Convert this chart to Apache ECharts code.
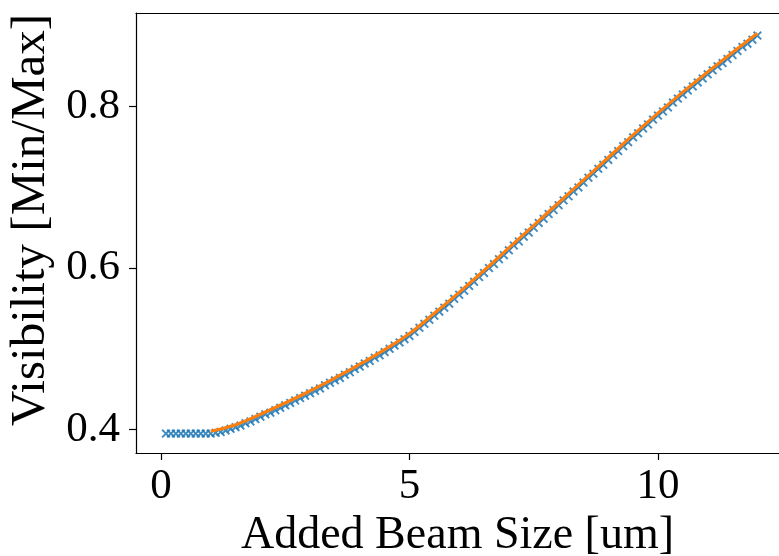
<!DOCTYPE html>
<html>
<head>
<meta charset="utf-8">
<script src="https://cdn.jsdelivr.net/npm/echarts@6/dist/echarts.min.js"></script>
<style>
html,body{margin:0;padding:0;background:#fff;}
#chart{width:779px;height:556px;}
</style>
</head>
<body>
<div id="chart"></div>
<script>
const xTicks = [0, 5, 10];
const yTicks = [0.4, 0.6, 0.8];
const xAxisTitle = 'Added Beam Size [um]';
const yAxisTitle = 'Visibility [Min/Max]';

const blueX = [
0.1,0.2,0.3,0.4,0.5,0.6,0.7,0.8,0.9,
1.0,1.1,1.2,1.3,1.4,1.5,1.6,1.7,1.8,1.9,
2.0,2.1,2.2,2.3,2.4,2.5,2.6,2.7,2.8,2.9,
3.0,3.1,3.2,3.3,3.4,3.5,3.6,3.7,3.8,3.9,
4.0,4.1,4.2,4.3,4.4,4.5,4.6,4.7,4.8,4.9,
5.0,5.1,5.2,5.3,5.4,5.5,5.6,5.7,5.8,5.9,
6.0,6.1,6.2,6.3,6.4,6.5,6.6,6.7,6.8,6.9,
7.0,7.1,7.2,7.3,7.4,7.5,7.6,7.7,7.8,7.9,
8.0,8.1,8.2,8.3,8.4,8.5,8.6,8.7,8.8,8.9,
9.0,9.1,9.2,9.3,9.4,9.5,9.6,9.7,9.8,9.9,
10.0,10.1,10.2,10.3,10.4,10.5,10.6,10.7,10.8,10.9,
11.0,11.1,11.2,11.3,11.4,11.5,11.6,11.7,11.8,11.9,
12.0
];
const blueY = [
0.395,0.395,0.395,0.395,0.395,0.395,0.395,0.395,0.395,
0.395,0.396,0.397,0.399,0.401,0.403,0.405,0.408,0.410,0.413,
0.416,0.419,0.421,0.424,0.427,0.430,0.433,0.436,0.439,0.442,
0.445,0.448,0.451,0.455,0.458,0.461,0.464,0.468,0.471,0.475,
0.478,0.482,0.485,0.489,0.492,0.496,0.500,0.504,0.508,0.512,
0.516,0.521,0.526,0.531,0.536,0.541,0.546,0.551,0.556,0.562,
0.567,0.572,0.578,0.583,0.589,0.594,0.600,0.605,0.611,0.616,
0.622,0.628,0.633,0.639,0.644,0.650,0.656,0.661,0.667,0.672,
0.678,0.684,0.689,0.695,0.700,0.706,0.712,0.717,0.723,0.728,
0.734,0.740,0.745,0.751,0.756,0.762,0.767,0.773,0.778,0.784,
0.789,0.794,0.799,0.805,0.810,0.815,0.820,0.825,0.830,0.835,
0.840,0.845,0.850,0.854,0.859,0.864,0.869,0.874,0.878,0.883,
0.888
];
const fitX = [1.0,1.5,2.0,2.5,3.0,3.5,4.0,4.5,5.0,5.5,6.0,6.5,7.0,7.5,8.0,8.5,9.0,9.5,10.0,10.5,11.0,11.5,12.0];
const fitY = [0.398,0.406,0.419,0.433,0.448,0.464,0.481,0.499,0.519,0.544,0.570,0.597,0.625,0.653,0.681,0.709,0.737,0.765,0.792,0.818,0.843,0.867,0.891];

const FONT = 'Liberation Serif, Times New Roman, serif';
const chart = echarts.init(document.getElementById('chart'), null, {renderer: 'canvas'});

const xMarker = 'path://M0,1.5L1.5,0L5,3.5L8.5,0L10,1.5L6.5,5L10,8.5L8.5,10L5,6.5L1.5,10L0,8.5L3.5,5Z';
const X_MIN = -0.503, X_MAX = 12.435;

chart.setOption({
  animation: false,
  backgroundColor: '#ffffff',
  grid: {
    left: 136, right: 0, top: 13, bottom: 103,
    show: false, containLabel: false, outerBoundsMode: 'none'
  },
  xAxis: [{
    type: 'value', min: X_MIN, max: X_MAX,
    splitLine: {show: false},
    axisLine: {show: true, onZero: false, lineStyle: {color: '#000', width: 1.2}},
    axisTick: {show: true, inside: false, length: 7, lineStyle: {color: '#000', width: 1.2}, customValues: xTicks},
    axisLabel: {show: true, customValues: xTicks, margin: 12, color: '#000', fontFamily: FONT, fontSize: 43,
      formatter: v => String(v)},
    name: xAxisTitle, nameLocation: 'middle', nameGap: 47,
    nameTextStyle: {color: '#000', fontFamily: FONT, fontSize: 46}
  }, {
    type: 'value', position: 'top', min: X_MIN, max: X_MAX,
    splitLine: {show: false},
    axisLine: {show: true, onZero: false, lineStyle: {color: '#000', width: 1.2}},
    axisTick: {show: false}, axisLabel: {show: false}
  }],
  yAxis: {
    type: 'value', min: 0.371, max: 0.916,
    splitLine: {show: false},
    axisLine: {show: true, onZero: false, lineStyle: {color: '#000', width: 1.2}},
    axisTick: {show: true, inside: false, length: 7, lineStyle: {color: '#000', width: 1.2}, customValues: yTicks},
    axisLabel: {show: true, customValues: yTicks, margin: 16, color: '#000', fontFamily: FONT, fontSize: 43,
      padding: [6, 0, 0, 0], formatter: v => v.toFixed(1)},
    name: yAxisTitle, nameLocation: 'middle', nameGap: 76, nameRotate: 90,
    nameTextStyle: {color: '#000', fontFamily: FONT, fontSize: 49, padding: [0, 0, 0, 26]}
  },
  series: [
    {
      type: 'scatter',
      data: blueX.map((x, i) => [x, blueY[i]]),
      symbol: xMarker,
      symbolSize: 9,
      itemStyle: {color: '#1f77b4', opacity: 0.85},
      z: 2
    },
    {
      type: 'line',
      data: fitX.map((x, i) => [x, fitY[i]]),
      smooth: 0.5,
      showSymbol: false,
      symbol: 'none',
      lineStyle: {color: '#ff7f0e', width: 3.2},
      z: 3
    }
  ]
});
</script>
</body>
</html>
